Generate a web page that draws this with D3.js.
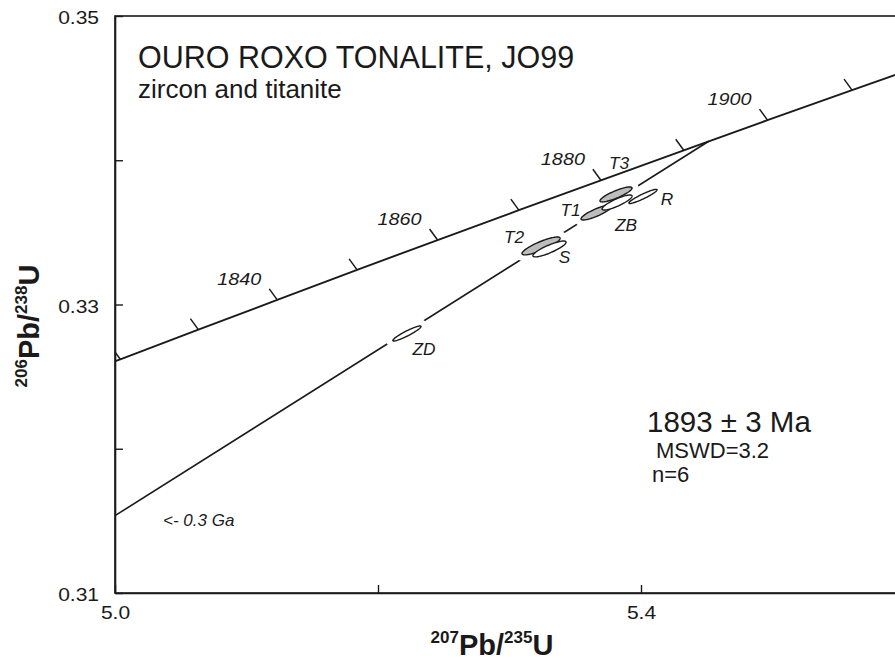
<!DOCTYPE html>
<html>
<head>
<meta charset="utf-8">
<script src="https://cdn.jsdelivr.net/npm/d3@7/dist/d3.min.js"></script>
<style>
  html, body { margin: 0; padding: 0; background: #fff; }
  svg { display: block; font-family: "Liberation Sans", Arial, Helvetica, sans-serif; }
</style>
</head>
<body>
<svg id="chart" width="895" height="660"></svg>
<script>
// Concordia curve: ages (Ma) and their 207Pb/235U and 206Pb/238U ratios
const concordiaAges = [1810, 1820, 1830, 1840, 1850, 1860, 1870, 1880, 1890, 1900, 1910, 1920];
const concordiaX    = [4.9452, 5.0040, 5.0634, 5.1234, 5.1841, 5.2453, 5.3071, 5.3695, 5.4325, 5.4962, 5.5605, 5.6254];
const concordiaY    = [0.32416, 0.32620, 0.32826, 0.33032, 0.33240, 0.33447, 0.33654, 0.33861, 0.34069, 0.34278, 0.34486, 0.34695];
const labelledAges  = [1840, 1860, 1880, 1900];

// Discordia: from the 0.3 Ga lower intercept (at the left edge) to the 1893 Ma upper intercept
const discordiaX = [5.0, 5.4515];
const discordiaY = [0.31536, 0.34132];

// Analyses: 207/235, 206/238, errors and error correlation
const spotNames = ["T3", "T1", "T2", "ZB", "R", "S", "ZD"];
const spotType  = ["titanite", "titanite", "titanite", "zircon", "zircon", "zircon", "zircon"];
const spotX     = [5.3810, 5.3662, 5.3240, 5.3818, 5.4015, 5.3304, 5.2220];
const spotY     = [0.33763, 0.33638, 0.33406, 0.33707, 0.33749, 0.33385, 0.32799];
const spotSx    = [0.0122, 0.0118, 0.0145, 0.0114, 0.0107, 0.0126, 0.0107];
const spotSy    = [0.00052, 0.00052, 0.00062, 0.00052, 0.00049, 0.00055, 0.00052];
const spotRho   = [0.85, 0.85, 0.85, 0.85, 0.93, 0.85, 0.93];

// Axis ticks
const xTickValues = [5.0, 5.2, 5.4, 5.6];
const xTickLabels = ["5.0", "", "5.4", ""];
const yTickValues = [0.31, 0.32, 0.33, 0.34, 0.35];
const yTickLabels = ["0.31", "", "0.33", "", "0.35"];

const svg = d3.select("#chart");
const m = { left: 115, top: 16, bottom: 593, right: 904 };

const x = d3.scaleLinear().domain([5.0, 5.6]).range([m.left, m.right]);
const y = d3.scaleLinear().domain([0.31, 0.35]).range([m.bottom, m.top]);

const ink = "#1a1a1a";

// Stretch a text horizontally (the figure's numerals are set wide)
function widen(sel, factor) {
  sel.each(function () {
    const w = this.getComputedTextLength();
    if (w > 0) d3.select(this).attr("textLength", w * factor).attr("lengthAdjust", "spacingAndGlyphs");
  });
}

svg.append("defs").append("clipPath").attr("id", "plotClip")
  .append("rect").attr("x", m.left).attr("y", m.top)
  .attr("width", m.right - m.left).attr("height", m.bottom - m.top);

// Frame
svg.append("rect")
  .attr("x", m.left).attr("y", m.top)
  .attr("width", m.right - m.left).attr("height", m.bottom - m.top)
  .attr("fill", "none").attr("stroke", ink).attr("stroke-width", 1.6);

// Axes with inward ticks
const xAxis = d3.axisBottom(x).tickValues(xTickValues)
  .tickSizeInner(-8).tickSizeOuter(0).tickPadding(14)
  .tickFormat((d, i) => xTickLabels[i]);
const gx = svg.append("g").attr("transform", `translate(0,${m.bottom})`).call(xAxis);

const yAxis = d3.axisLeft(y).tickValues(yTickValues)
  .tickSizeInner(-8).tickSizeOuter(0).tickPadding(16)
  .tickFormat((d, i) => yTickLabels[i]);
const gy = svg.append("g").attr("transform", `translate(${m.left},0)`).call(yAxis);

[gx, gy].forEach(g => {
  g.attr("font-size", null).attr("font-family", null);
  g.select(".domain").attr("stroke", ink).attr("stroke-width", 1.6);
  g.selectAll(".tick line").attr("stroke", ink).attr("stroke-width", 1.4);
  g.selectAll(".tick text").attr("fill", ink)
    .style("font-size", "17.5px")
    .style("font-family", "'Liberation Sans', Arial, sans-serif");
  widen(g.selectAll(".tick text"), 1.2);
});
gy.selectAll(".tick text").attr("dy", "0.45em");

const plot = svg.append("g").attr("clip-path", "url(#plotClip)");

// Concordia curve
const concordiaPts = concordiaAges.map((a, i) => [x(concordiaX[i]), y(concordiaY[i])]);
plot.append("path")
  .attr("d", d3.line()(concordiaPts))
  .attr("fill", "none").attr("stroke", ink).attr("stroke-width", 1.9);

// Age ticks on the concordia
plot.selectAll(".ctick").data(concordiaPts).join("line")
  .attr("x1", d => d[0]).attr("y1", d => d[1])
  .attr("x2", d => d[0] - 8).attr("y2", d => d[1] - 11)
  .attr("stroke", ink).attr("stroke-width", 1.5);

const clabels = svg.selectAll(".clabel").data(labelledAges).join("text")
  .attr("x", a => x(concordiaX[concordiaAges.indexOf(a)]) - 38)
  .attr("y", a => y(concordiaY[concordiaAges.indexOf(a)]) - 21)
  .attr("text-anchor", "middle").attr("dominant-baseline", "central")
  .attr("font-style", "italic").attr("font-size", 16.5).attr("fill", ink)
  .text(a => a);
widen(clabels, 1.2);

// Discordia line
plot.append("line")
  .attr("x1", x(discordiaX[0])).attr("y1", y(discordiaY[0]))
  .attr("x2", x(discordiaX[1])).attr("y2", y(discordiaY[1]))
  .attr("stroke", ink).attr("stroke-width", 1.6);

// Error ellipses
function ellipsePath(i) {
  const pts = [];
  const r = Math.sqrt(1 - spotRho[i] * spotRho[i]);
  for (let k = 0; k <= 96; k++) {
    const t = (k / 96) * 2 * Math.PI;
    const dx = spotSx[i] * Math.cos(t);
    const dy = spotSy[i] * (spotRho[i] * Math.cos(t) + r * Math.sin(t));
    pts.push([x(spotX[i] + dx), y(spotY[i] + dy)]);
  }
  return d3.line()(pts) + "Z";
}
const idx = spotNames.map((d, i) => i);
const order = idx.filter(i => spotType[i] === "titanite").concat(idx.filter(i => spotType[i] === "zircon"));

// White halos break the discordia around the analyses
plot.selectAll(".halo").data(order).join("path")
  .attr("d", ellipsePath)
  .attr("fill", "#fff").attr("stroke", "#fff").attr("stroke-width", 13);

plot.selectAll(".spot").data(order).join("path")
  .attr("d", ellipsePath)
  .attr("fill", i => spotType[i] === "titanite" ? "#bdbdbd" : "#fff")
  .attr("stroke", ink).attr("stroke-width", 1.4);

// Analysis labels
const labelOffset = { T3: [3, -31], T1: [-26, -2], ZB: [9, 23], R: [24, 3], T2: [-27, -8], S: [15, 9], ZD: [17, 16] };
const slabels = svg.selectAll(".slabel").data(idx).join("text")
  .attr("x", i => x(spotX[i]) + labelOffset[spotNames[i]][0])
  .attr("y", i => y(spotY[i]) + labelOffset[spotNames[i]][1])
  .attr("text-anchor", "middle").attr("dominant-baseline", "central")
  .attr("font-style", "italic").attr("font-size", 16).attr("fill", ink)
  .text(i => spotNames[i]);
widen(slabels, 1.08);

// Titles and annotations
svg.append("text").attr("x", 138).attr("y", 68)
  .attr("font-size", 30.5).attr("fill", ink).text("OURO ROXO TONALITE, JO99");
svg.append("text").attr("x", 138).attr("y", 98)
  .attr("font-size", 26).attr("fill", ink).text("zircon and titanite");

svg.append("text").attr("x", 647).attr("y", 432)
  .attr("font-size", 29.5).attr("fill", ink).text("1893 \u00b1 3 Ma");
svg.append("text").attr("x", 656).attr("y", 458)
  .attr("font-size", 22).attr("fill", ink).text("MSWD=3.2");
svg.append("text").attr("x", 652).attr("y", 482)
  .attr("font-size", 22).attr("fill", ink).text("n=6");

svg.append("text").attr("x", 163).attr("y", 520)
  .attr("dominant-baseline", "central")
  .attr("font-style", "italic").attr("font-size", 17).attr("fill", ink).text("<- 0.3 Ga");

// Axis titles
const supFont = "'Liberation Sans Narrow', 'Liberation Sans', Arial, sans-serif";
function axisTitle(sel, sup1, sup2) {
  sel.attr("text-anchor", "middle").attr("font-weight", "bold")
    .attr("font-size", 29).attr("fill", ink);
  sel.append("tspan").style("font-family", supFont).attr("font-size", 17).attr("dy", -12).text(sup1);
  sel.append("tspan").attr("dy", 12).text("Pb/");
  sel.append("tspan").style("font-family", supFont).attr("font-size", 17).attr("dy", -12).text(sup2);
  sel.append("tspan").attr("dy", 12).text("U");
}
axisTitle(svg.append("text").attr("x", 492).attr("y", 655), "207", "235");
axisTitle(svg.append("text").attr("transform", "translate(39,326) rotate(-90)"), "206", "238");
</script>
</body>
</html>
